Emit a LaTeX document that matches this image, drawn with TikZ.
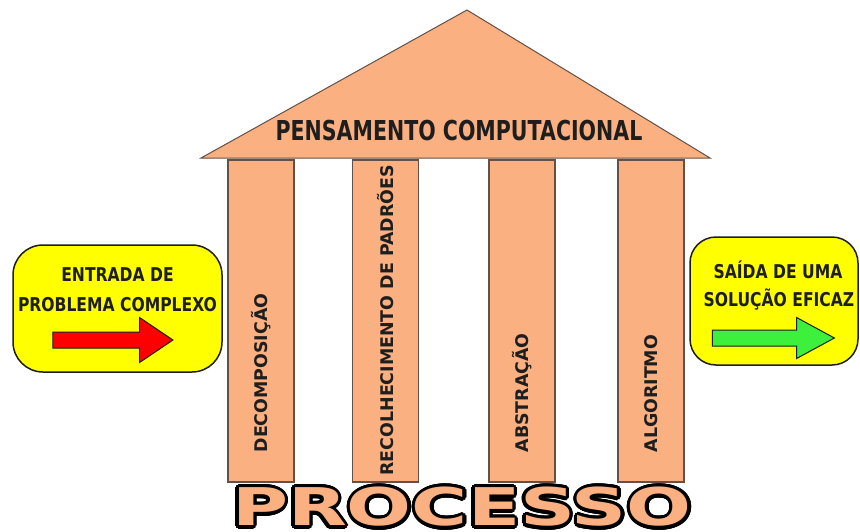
\documentclass[tikz,border=0pt]{standalone}
\usepackage{fontspec}
\setmainfont{DejaVu Sans}
\newfontfamily\narrowfont[FakeStretch=0.82]{DejaVu Sans}
\newfontfamily\roofont[FakeStretch=0.75]{DejaVu Sans}
\newfontfamily\widefont[FakeStretch=1.47]{DejaVu Sans}
\usetikzlibrary{shapes.arrows}
\definecolor{pillarfill}{RGB}{250,176,128}
\definecolor{pillarline}{RGB}{100,80,70}
\definecolor{boxyellow}{RGB}{255,255,0}
\definecolor{arrowred}{RGB}{255,0,0}
\definecolor{arrowgreen}{RGB}{60,240,60}
\definecolor{inkdark}{RGB}{30,30,30}
\tikzset{
  pillar/.style={draw=pillarline, fill=pillarfill, line width=1.2pt,
    minimum width=66pt, minimum height=322pt, inner sep=0pt},
  pillartext/.style={rotate=90, anchor=west, text=inkdark, inner sep=0pt,
    font=\bfseries\fontsize{17.4}{18}\selectfont},
  iobox/.style={draw=inkdark, fill=boxyellow, line width=1.5pt},
  iotext/.style={text=inkdark, inner sep=0pt,
    font=\narrowfont\bfseries\fontsize{19}{20}\selectfont},
  flowarrow/.style={single arrow, draw=inkdark, line width=1pt, inner sep=0pt,
    inner ysep=7.5pt, single arrow head extend=14.5pt},
  bigword/.style={inner sep=0pt, font=\widefont\bfseries\fontsize{52}{54}\selectfont}
}
\begin{document}
\begin{tikzpicture}[x=1pt,y=-1pt]
\useasboundingbox[fill=white] (0,0) rectangle (860,531);
% pillars
\node[pillar] (decomp) at (261,321) {};
\node[pillar] (padroes) at (385.5,321) {};
\node[pillar] (abstr) at (522,321) {};
\node[pillar] (algor) at (651,321) {};
\node[pillartext] (decomptext) at ([yshift=30pt]decomp.south) {DECOMPOSIÇÃO};
\node[pillartext] (padroestext) at ([yshift=7pt]padroes.south) {RECOLHECIMENTO DE PADRÕES};
\node[pillartext] (abstrtext) at ([yshift=30pt]abstr.south) {ABSTRAÇÃO};
\node[pillartext] (algortext) at ([yshift=30pt]algor.south) {ALGORITMO};

% roof
\filldraw[draw=pillarline, fill=pillarfill, line width=1pt] (201,158) -- (467,10) -- (710,158) -- cycle;
\node[text=inkdark, inner sep=0pt, font=\roofont\bfseries\fontsize{27.4}{28}\selectfont]
  (roof) at (459,131) {PENSAMENTO COMPUTACIONAL};

% input box
\draw[iobox, rounded corners=30pt] (13,245) rectangle (222,372);
\node[iotext] (inA) at (117.5,275) {ENTRADA DE};
\node[iotext] (inB) at (117.5,305) {PROBLEMA COMPLEXO};
\node[flowarrow, fill=arrowred, minimum height=120pt, single arrow tip angle=68] (inarrow) at (107,340) {};

% output box
\draw[iobox, rounded corners=26pt] (690,237) rectangle (858,365);
\node[iotext] (outA) at (778,270) {SAÍDA DE UMA};
\node[iotext] (outB) at (779,300) {SOLUÇÃO EFICAZ};
\node[flowarrow, fill=arrowgreen, minimum height=122pt,
  single arrow head extend=12.5pt, single arrow tip angle=57] (outarrow) at (766,338) {};

% outlined title
\foreach \a in {0,15,...,345}
  \path (462,507) ++(\a:3.3) node[bigword, text=black] (proc\a) {PROCESSO};
\node[bigword, text=pillarfill] (proc) at (462,507) {PROCESSO};
\end{tikzpicture}
\end{document}
